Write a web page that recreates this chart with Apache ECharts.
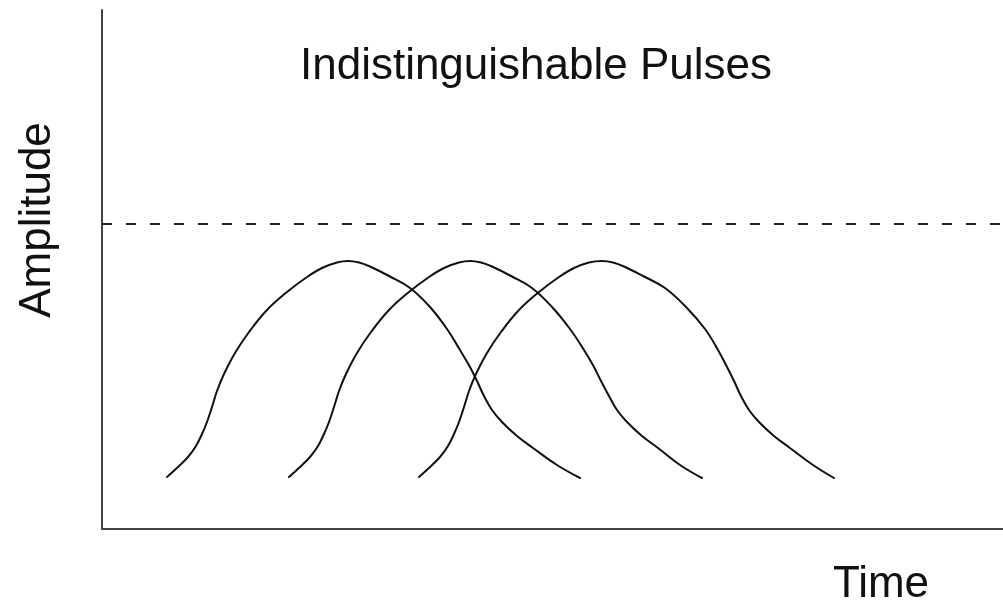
<!DOCTYPE html>
<html>
<head>
<meta charset="utf-8">
<script src="https://cdn.jsdelivr.net/npm/echarts@6/dist/echarts.min.js"></script>
<style>
  html, body { margin: 0; padding: 0; background: #fff; }
  #chart { width: 1003px; height: 605px; }
</style>
</head>
<body>
<div id="chart"></div>
<script>
// pulse outlines: [time, amplitude]
const pulse1 = [
  [65, 52], [76, 62], [86, 72], [94, 83], [100, 95], [105, 107], [110, 122],
  [115, 138], [122, 155], [133, 176], [147, 197], [165, 219], [185, 237],
  [205, 252], [220, 261], [235, 266.5], [246, 268], [257, 266.5], [268, 262.5],
  [288, 252.5], [308, 241], [328, 222], [345, 200], [358, 179], [368, 162],
  [375, 148], [382, 133], [390, 119], [400, 107], [415, 93], [431, 81],
  [455, 64], [478, 51]
]
const pulse2 = [
  [187, 52], [198, 62], [208, 72], [216, 83], [222, 95], [227, 107], [232, 122],
  [237, 138], [244, 155], [255, 176], [269, 197], [287, 219], [307, 237],
  [327, 252], [342, 261], [357, 266.5], [368, 268], [379, 266.5], [390, 262.5],
  [410, 252.5], [430, 241], [450, 222], [468, 200], [482, 179], [492, 162],
  [499, 148], [507, 133], [515, 119], [525, 107], [540, 93], [556, 81],
  [578, 64], [600, 51]
]
const pulse3 = [
  [317, 52], [328, 62], [338, 72], [346, 83], [352, 95], [357, 107], [362, 122],
  [367, 138], [374, 155], [385, 176], [399, 197], [417, 219], [437, 237],
  [457, 252], [472, 261], [487, 266.5], [500, 268], [511, 266.5], [522, 262.5],
  [542, 252.5], [563, 241], [584, 222], [603, 200], [616, 179], [625, 162],
  [632, 148], [639, 133], [647, 119], [657, 107], [672, 93], [688, 81],
  [711, 64], [732, 51]
]
const threshold = 305
const timeRange = [0, 901]
const ampRange = [0, 519]

const titleText = 'Indistinguishable Pulses'
const xName = 'Time'
const yName = 'Amplitude'

const chart = echarts.init(document.getElementById('chart'))

const font = '"Liberation Sans", Arial, Helvetica, sans-serif'
const axisStyle = { show: true, lineStyle: { color: '#444', width: 2 } }

const pulseSeries = (name, data) => ({
  name: name,
  type: 'line',
  data: data,
  smooth: 0.4,
  symbol: 'none',
  lineStyle: { color: '#111', width: 2, cap: 'round', join: 'round' },
  z: 3
})

chart.setOption({
  animation: false,
  backgroundColor: '#fff',
  grid: { left: 102, right: 0, top: 10, bottom: 76 },
  xAxis: {
    type: 'value',
    min: timeRange[0],
    max: timeRange[1],
    axisLine: axisStyle,
    axisTick: { show: false },
    axisLabel: { show: false },
    splitLine: { show: false }
  },
  yAxis: {
    type: 'value',
    min: ampRange[0],
    max: ampRange[1],
    axisLine: axisStyle,
    axisTick: { show: false },
    axisLabel: { show: false },
    splitLine: { show: false }
  },
  graphic: [
    {
      type: 'text', x: 536, y: 67,
      style: { text: titleText, font: '44px ' + font, fill: '#111', align: 'center', verticalAlign: 'middle' }
    },
    {
      type: 'text', x: 38, y: 220, rotation: Math.PI / 2,
      style: { text: yName, font: '44px ' + font, fill: '#111', align: 'center', verticalAlign: 'middle' }
    },
    {
      type: 'text', x: 881, y: 585,
      style: { text: xName, font: '44px ' + font, fill: '#111', align: 'center', verticalAlign: 'middle' }
    }
  ],
  series: [
    Object.assign(pulseSeries('pulse 1', pulse1), {
      markLine: {
        silent: true,
        symbol: 'none',
        label: { show: false },
        lineStyle: { color: '#222', width: 2, type: [10, 14] },
        data: [{ yAxis: threshold }]
      }
    }),
    pulseSeries('pulse 2', pulse2),
    pulseSeries('pulse 3', pulse3)
  ]
})
</script>
</body>
</html>
